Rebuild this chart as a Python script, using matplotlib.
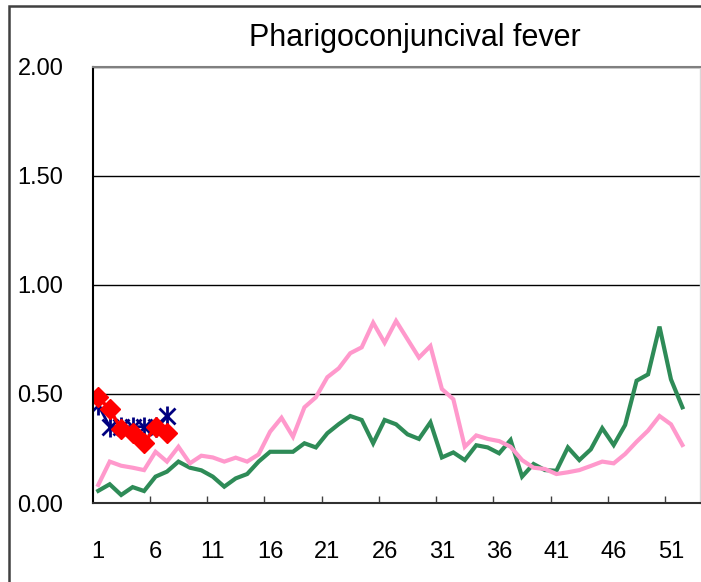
import matplotlib.pyplot as plt
from matplotlib.patches import Rectangle

weeks = list(range(1, 54))
tick_labels = ['1', '6', '11', '16', '21', '26', '31', '36', '41', '46', '51']

# full-year series (weeks 1-52)
green = [0.056, 0.086, 0.037, 0.073, 0.055, 0.121, 0.144, 0.190, 0.162, 0.150,
         0.121, 0.075, 0.113, 0.133, 0.190, 0.235, 0.235, 0.235, 0.274, 0.255,
         0.320, 0.362, 0.399, 0.381, 0.274, 0.381, 0.361, 0.315, 0.294, 0.370,
         0.209, 0.232, 0.197, 0.265, 0.255, 0.228, 0.289, 0.121, 0.179, 0.151,
         0.148, 0.255, 0.197, 0.246, 0.343, 0.266, 0.358, 0.561, 0.590, 0.809,
         0.567, 0.439]
pink = [0.083, 0.190, 0.171, 0.162, 0.151, 0.235, 0.190, 0.258, 0.182, 0.217,
        0.209, 0.190, 0.208, 0.190, 0.223, 0.327, 0.391, 0.304, 0.439, 0.485,
        0.577, 0.618, 0.687, 0.714, 0.827, 0.735, 0.835, 0.751, 0.667, 0.720,
        0.523, 0.476, 0.258, 0.310, 0.294, 0.284, 0.258, 0.197, 0.162, 0.156,
        0.133, 0.141, 0.151, 0.170, 0.190, 0.182, 0.225, 0.281, 0.332, 0.399,
        0.361, 0.266]
# current-year series (weeks 1-7)
blue = [0.450, 0.350, 0.350, 0.350, 0.350, 0.350, 0.400]
red = [0.485, 0.430, 0.339, 0.320, 0.274, 0.350, 0.323]

plt.rcParams['font.family'] = ['Liberation Sans', 'DejaVu Sans']

fig = plt.figure(figsize=(7.01, 5.82), dpi=100)
ax = fig.add_axes([0.132, 0.1357, 0.866, 0.7493])

ax.plot(weeks[:52], green, color='#2E8B57', lw=3, solid_joinstyle='miter')
ax.plot(weeks[:52], pink, color='#FF99CC', lw=3, solid_joinstyle='miter')
ax.plot(weeks[:7], blue, color='#000080', lw=2)
ax.plot(weeks[:7], blue, ls='none', marker='x', ms=11, mew=2, color='#000080')
ax.plot(weeks[:7], blue, ls='none', marker='|', ms=14, mew=2, color='#000080')
ax.plot(weeks[:7], red, color='#FF0000', lw=2.5, marker='D', ms=10,
        mfc='#FF0000', mec='#FF0000')

ax.set_xlim(0.5, 53.5)
ax.set_ylim(0, 2.0)
ax.set_yticks([0, 0.5, 1.0, 1.5, 2.0])
ax.set_yticklabels(['0.00', '0.50', '1.00', '1.50', '2.00'])
ax.tick_params(axis='y', length=0, pad=21, labelsize=17)
ax.set_xticks([int(t) for t in tick_labels])
ax.set_xticklabels(tick_labels)
ax.tick_params(axis='x', length=0, pad=27, labelsize=17)
ax.set_xticks([5.5 + 5 * i for i in range(10)], minor=True)
ax.tick_params(axis='x', which='minor', direction='in', length=5, width=1, color='#404040')

ax.grid(axis='y', color='black', lw=1)
ax.set_axisbelow(True)
ax.spines['right'].set_color('#D8D8D8')
ax.spines['right'].set_linewidth(1)
ax.spines['top'].set_color('#808080')
ax.spines['top'].set_linewidth(1.5)
ax.spines['left'].set_linewidth(1.5)
ax.spines['bottom'].set_linewidth(1.5)
ax.spines['bottom'].set_color('#303030')

fig.text(0.592, 0.935, 'Pharigoconjuncival fever', ha='center', va='center',
         fontsize=22)

# outer chart border (right and bottom edges fall outside the image)
fig.patches.append(Rectangle((9 / 701, -0.05), 1.0, 1.05 - 6 / 582,
                             transform=fig.transFigure, fill=False,
                             edgecolor='#404040', lw=1.8))

fig.savefig('out.png', dpi=100)
